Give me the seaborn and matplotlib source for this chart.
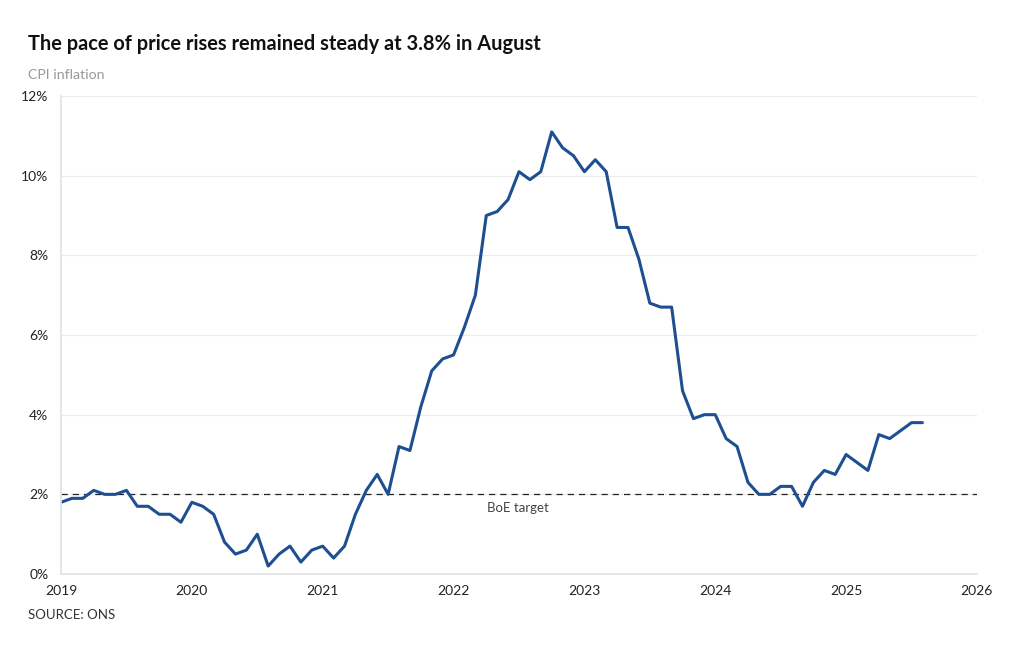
import numpy as np
import pandas as pd
import seaborn as sns
import matplotlib.pyplot as plt

# CPI inflation, monthly, Jan 2019 - Aug 2025
cpi_2019 = [1.8, 1.9, 1.9, 2.1, 2.0, 2.0, 2.1, 1.7, 1.7, 1.5, 1.5, 1.3]
cpi_2020 = [1.8, 1.7, 1.5, 0.8, 0.5, 0.6, 1.0, 0.2, 0.5, 0.7, 0.3, 0.6]
cpi_2021 = [0.7, 0.4, 0.7, 1.5, 2.1, 2.5, 2.0, 3.2, 3.1, 4.2, 5.1, 5.4]
cpi_2022 = [5.5, 6.2, 7.0, 9.0, 9.1, 9.4, 10.1, 9.9, 10.1, 11.1, 10.7, 10.5]
cpi_2023 = [10.1, 10.4, 10.1, 8.7, 8.7, 7.9, 6.8, 6.7, 6.7, 4.6, 3.9, 4.0]
cpi_2024 = [4.0, 3.4, 3.2, 2.3, 2.0, 2.0, 2.2, 2.2, 1.7, 2.3, 2.6, 2.5]
cpi_2025 = [3.0, 2.8, 2.6, 3.5, 3.4, 3.6, 3.8, 3.8]

boe_target = 2.0
year_ticks = [2019, 2020, 2021, 2022, 2023, 2024, 2025, 2026]
pct_ticks = [0, 2, 4, 6, 8, 10, 12]

values = cpi_2019 + cpi_2020 + cpi_2021 + cpi_2022 + cpi_2023 + cpi_2024 + cpi_2025
df = pd.DataFrame({"date": 2019 + np.arange(len(values)) / 12, "cpi": values})

sns.set_theme(style="white")
plt.rcParams["font.family"] = ["Lato", "DejaVu Sans"]

fig = plt.figure(figsize=(10.2, 6.5), dpi=100)
ax = fig.add_axes([0.0598, 0.1169, 0.8980, 0.7354])

sns.lineplot(data=df, x="date", y="cpi", ax=ax, color="#1d4f91", linewidth=2.2)
ax.axhline(boe_target, color="#222222", linestyle=(0, (5, 4)), linewidth=0.9, zorder=1)
ax.text(2022.49, boe_target - 0.18, "BoE target", ha="center", va="top",
        fontsize=9.5, color="#444444")

ax.set_xlim(2019, 2026)
ax.set_ylim(0, 12)
ax.set_xticks(year_ticks)
ax.set_xticklabels([str(y) for y in year_ticks], fontsize=10, color="#222222")
ax.set_yticks(pct_ticks)
ax.set_yticklabels([f"{p}%" for p in pct_ticks], fontsize=10, color="#222222")
ax.grid(axis="y", color="#ebebeb", linewidth=0.8)
ax.set_xlabel("")
ax.set_ylabel("")
for side in ["top", "right"]:
    ax.spines[side].set_visible(False)
ax.spines["left"].set_color("#e3e3e3")
ax.spines["bottom"].set_color("#e3e3e3")
ax.tick_params(axis="x", length=4, color="#dddddd", pad=4)
ax.tick_params(axis="y", length=0, pad=9)

fig.text(0.0275, 0.932, "The pace of price rises remained steady at 3.8% in August",
         fontsize=14.4, fontweight="bold", color="#111111", va="center")
fig.text(0.0275, 0.885, "CPI inflation", fontsize=10.2, color="#999999", va="center")
fig.text(0.0275, 0.054, "SOURCE: ONS", fontsize=9.5, color="#333333", va="center")

fig.savefig("out.png", dpi=100)
